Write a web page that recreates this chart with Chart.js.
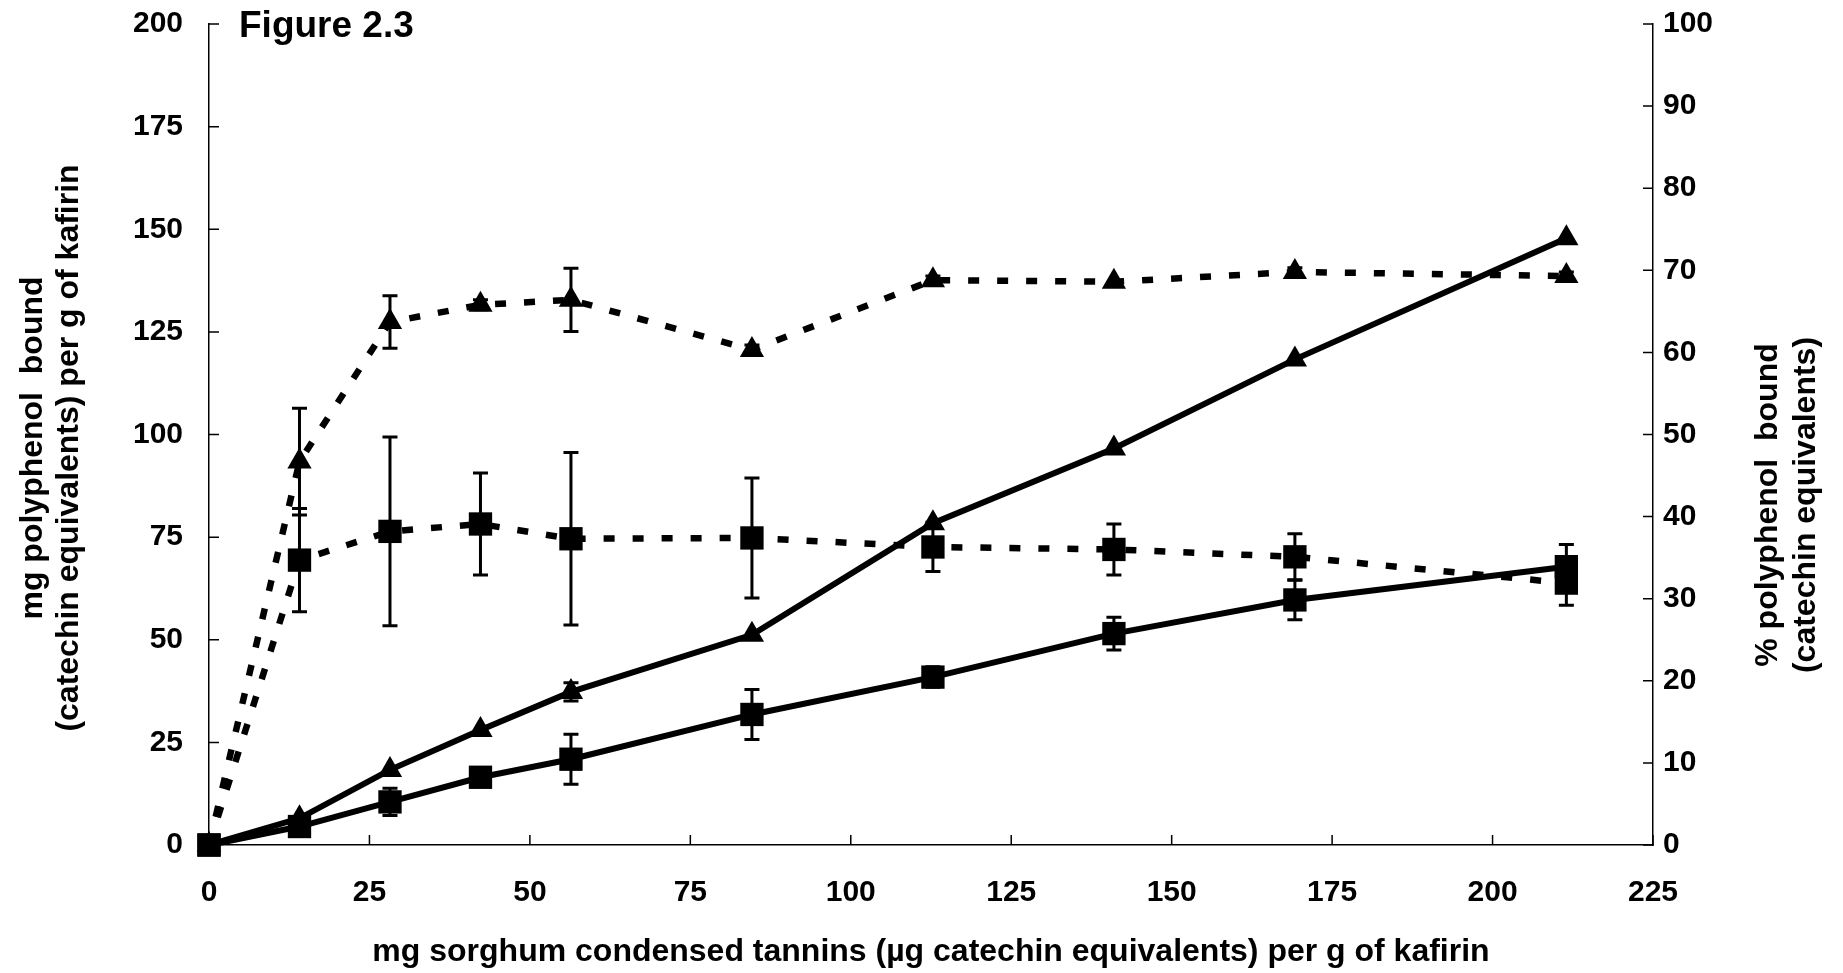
<!DOCTYPE html>
<html><head><meta charset="utf-8">
<script src="https://cdn.jsdelivr.net/npm/chart.js@4"></script>
<style>html,body{margin:0;padding:0;background:#fff;overflow:hidden;}</style>
</head><body>
<canvas id="c" width="1843" height="973"></canvas>
<script>
// ---- data ----
const tanninLevels = [0, 14.1, 28.2, 42.3, 56.4, 84.6, 112.8, 141, 169.2, 211.5];
const triMg     = [0, 6.5, 18.3, 28, 37.3, 51.2, 78.4, 96.6, 118.3, 147.8];
const triMgErr  = [null, null, null, null, 2.2, null, null, null, null, null];
const sqMg      = [0, 4.5, 10.5, 16.5, 20.9, 31.8, 40.9, 51.5, 59.7, 67.8];
const sqMgErr   = [null, null, 3.3, 1.5, 6.1, 6.1, 2.5, 4, 4.8, 5.4];
const triPct    = [0, 46.7, 63.7, 65.8, 66.4, 60.3, 68.8, 68.6, 69.8, 69.3];
const triPctErr = [null, 6.5, 3.2, 0.6, 3.85, 0.6, 0.5, null, 0.5, 0.5];
const sqPct     = [0, 34.7, 38.2, 39.1, 37.3, 37.4, 36.3, 36, 35.1, 31.9];
const sqPctErr  = [null, 6.3, 11.5, 6.2, 10.5, 7.3, 3, 3.1, 2.8, 2.7];

const xTitle = 'mg sorghum condensed tannins (\u00b5g catechin equivalents) per g of kafirin';
const yLeftTitle = ['mg polyphenol  bound', '(catechin equivalents) per g of kafirin'];
const yRightTitle = ['% polyphenol  bound', '(catechin equivalents)'];
const figureLabel = 'Figure 2.3';

const FONT = "'Liberation Sans', Arial, Helvetica, sans-serif";
const pts = (ys) => tanninLevels.map((x, i) => ({x: x, y: ys[i]}));

function mkSet(label, ys, errs, axis, style, dashed) {
  return {
    label: label, data: pts(ys), errors: errs, yAxisID: axis,
    borderColor: '#000', backgroundColor: '#000', borderWidth: dashed ? 6.5 : 6,
    borderDash: dashed ? [11, 18] : [], borderCapStyle: 'butt', borderJoinStyle: 'miter',
    pointStyle: style, pointRadius: style === 'rect' ? 16.5 : 14,
    pointBorderWidth: 0, pointBackgroundColor: '#000', tension: 0, fill: false, clip: false
  };
}

const errorBars = {
  id: 'errorBars',
  afterDatasetsDraw(chart) {
    const ctx = chart.ctx;
    const xs = chart.scales.x;
    chart.data.datasets.forEach((ds) => {
      const ys = chart.scales[ds.yAxisID];
      ctx.save();
      ctx.strokeStyle = '#000';
      ctx.lineWidth = 3;
      ds.data.forEach((p, j) => {
        const e = ds.errors[j];
        if (e == null) return;
        const px = xs.getPixelForValue(p.x);
        const top = ys.getPixelForValue(p.y + e);
        const bot = ys.getPixelForValue(p.y - e);
        ctx.beginPath();
        ctx.moveTo(px, top); ctx.lineTo(px, bot);
        ctx.moveTo(px - 7.5, top); ctx.lineTo(px + 7.5, top);
        ctx.moveTo(px - 7.5, bot); ctx.lineTo(px + 7.5, bot);
        ctx.stroke();
      });
      ctx.restore();
    });
  }
};

function vText(ctx, text, cx, cy) {
  ctx.save();
  ctx.translate(cx, cy);
  ctx.rotate(-Math.PI / 2);
  ctx.fillText(text, 0, 0);
  ctx.restore();
}

const decor = {
  id: 'decor',
  afterDraw(chart) {
    const ctx = chart.ctx;
    const {x, yL, yR} = chart.scales;
    ctx.save();
    ctx.strokeStyle = '#000';
    ctx.lineWidth = 1.5;
    ctx.beginPath();
    x.ticks.forEach(t => { const p = x.getPixelForValue(t.value); ctx.moveTo(p, x.top); ctx.lineTo(p, x.top - 10); });
    yL.ticks.forEach(t => { const p = yL.getPixelForValue(t.value); ctx.moveTo(yL.right, p); ctx.lineTo(yL.right + 10, p); });
    yR.ticks.forEach(t => { const p = yR.getPixelForValue(t.value); ctx.moveTo(yR.left, p); ctx.lineTo(yR.left - 10, p); });
    ctx.stroke();
    ctx.fillStyle = '#000';
    // figure label
    ctx.font = 'bold 37px ' + FONT;
    ctx.textAlign = 'left';
    ctx.textBaseline = 'alphabetic';
    ctx.fillText(figureLabel, chart.chartArea.left + 30, 37);
    // y axis titles (read bottom to top)
    ctx.font = 'bold 32px ' + FONT;
    ctx.textAlign = 'center';
    ctx.textBaseline = 'middle';
    vText(ctx, yLeftTitle[0], 33, 448);
    vText(ctx, yLeftTitle[1], 69, 448);
    vText(ctx, yRightTitle[0], 1768, 505);
    vText(ctx, yRightTitle[1], 1806, 505);
    ctx.restore();
  }
};

Chart.defaults.font.family = FONT;
Chart.defaults.color = '#000';

new Chart(document.getElementById('c'), {
  type: 'line',
  data: {
    datasets: [
      mkSet('mg bound (triangle)', triMg, triMgErr, 'yL', 'triangle', false),
      mkSet('mg bound (square)', sqMg, sqMgErr, 'yL', 'rect', false),
      mkSet('% bound (triangle)', triPct, triPctErr, 'yR', 'triangle', true),
      mkSet('% bound (square)', sqPct, sqPctErr, 'yR', 'rect', true)
    ]
  },
  options: {
    responsive: false,
    animation: false,
    devicePixelRatio: 1,
    layout: {padding: {top: 24, left: 0, right: 0, bottom: 0}},
    plugins: {legend: {display: false}, tooltip: {enabled: false}, title: {display: false}},
    scales: {
      x: {
        type: 'linear', min: 0, max: 225,
        ticks: {stepSize: 25, font: {size: 30, weight: 'bold'}, padding: 30, maxRotation: 0},
        grid: {display: false, drawTicks: false},
        border: {display: true, color: '#000', width: 1.5},
        title: {display: true, text: xTitle, font: {size: 32, weight: 'bold'}, padding: {top: 0, bottom: 2}},
        afterFit(s) { s.height = 128; s.paddingLeft = 0; s.paddingRight = 0; }
      },
      yL: {
        type: 'linear', position: 'left', min: 0, max: 200,
        ticks: {stepSize: 25, font: {size: 30, weight: 'bold'}, padding: 26},
        grid: {display: false, drawTicks: false},
        border: {display: true, color: '#000', width: 1.5},
        afterFit(s) { s.width = 209; s.paddingTop = 0; s.paddingBottom = 0; }
      },
      yR: {
        type: 'linear', position: 'right', min: 0, max: 100,
        ticks: {stepSize: 10, font: {size: 30, weight: 'bold'}, padding: 10},
        grid: {display: false, drawTicks: false},
        border: {display: true, color: '#000', width: 1.5},
        afterFit(s) { s.width = 190; s.paddingTop = 0; s.paddingBottom = 0; }
      }
    }
  },
  plugins: [errorBars, decor]
});
</script>
</body></html>
